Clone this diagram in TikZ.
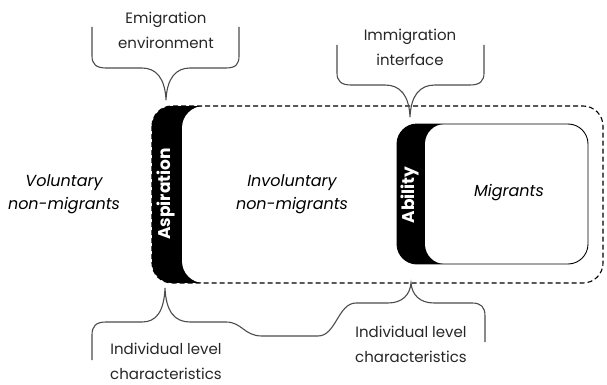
\documentclass[tikz,border=0pt]{standalone}
\usepackage{fontspec}
\setmainfont{Poppins}
\usepackage{tikz}
\tikzset{>=latex}
\usetikzlibrary{calc}

\tikzset{
  lbl/.style={align=center, font=\fontsize{15}{25}\selectfont, text=black!85},
  itl/.style={align=center, font=\fontsize{16}{23}\selectfont\itshape, text=black},
  band/.style={text=white, font=\fontsize{17}{19}\selectfont\bfseries, rotate=90},
  brace/.style={draw=black!70, line width=1.1pt},
}

\begin{document}
\begin{tikzpicture}[x=1pt, y=-1pt]
      \useasboundingbox (0,0) rectangle (607,385);
      % dashed box with the aspiration band
      \begin{scope}
        \clip[rounded corners=20] (152,106) rectangle (603,283);
        \fill (152,106) rectangle (230,283);
        \fill[white, rounded corners=22] (182,106) rectangle (640,283);
      \end{scope}
      \draw[dash pattern=on 5pt off 3pt, line width=1.1pt, rounded corners=20] (152,106) rectangle (603,283);
      % migrants box with the ability band
      \begin{scope}
        \clip[rounded corners=20] (397,124) rectangle (588,264);
        \fill (397,124) rectangle (460,264);
        \fill[white, rounded corners=20] (425,124) rectangle (620,264);
      \end{scope}
      \draw[line width=0.9pt, rounded corners=20] (397,124) rectangle (588,264);
      % braces
      \draw[brace] (92,27) -- (92,56) .. controls (92,64) and (96,68) .. (106,68) -- (142,68)
        .. controls (156,68) and (165,78) .. (166,100) .. controls (167,78) and (176,68) .. (190,68)
        -- (226,68) .. controls (236,68) and (239,64) .. (239,56) -- (239,27);
      \draw[brace] (337,45) -- (337,73) .. controls (337,81) and (341,85) .. (351,85) -- (385,85)
        .. controls (400,85) and (409,95) .. (410,117) .. controls (411,95) and (420,85) .. (435,85)
        -- (470,85) .. controls (480,85) and (484,81) .. (484,73) -- (484,45);
      \draw[brace] (92,360) -- (92,335) .. controls (92,326) and (96,322) .. (106,322) -- (142,322)
        .. controls (156,322) and (164,312) .. (165,288) .. controls (166,312) and (175,322) .. (190,322)
        -- (226,322) .. controls (242,322) and (244,336) .. (262,336) -- (318,336)
        .. controls (336,336) and (338,303) .. (356,303) -- (388,303)
        .. controls (402,303) and (410,295) .. (411,283) .. controls (412,295) and (420,303) .. (434,303)
        -- (472,303) .. controls (481,303) and (485,307) .. (485,316) -- (485,342);
      % labels
      \node[lbl] (emig) at (166,30) {Emigration\\environment};
      \node[lbl] (immig) at (410,47) {Immigration\\interface};
      \node[lbl] (indivl) at (166,361) {Individual level\\characteristics};
      \node[lbl] (indivr) at (411,344) {Individual level\\characteristics};
      \node[itl] (volnon) at (64,194) {Voluntary\\non-migrants};
      \node[itl] (invnon) at (292,194) {Involuntary\\non-migrants};
      \node[itl] (migr) at (509,193) {Migrants};
      \node[band] (aspir) at (166,194) {Aspiration};
      \node[band] (abil) at (410,195) {Ability};
    \end{tikzpicture}
\end{document}
